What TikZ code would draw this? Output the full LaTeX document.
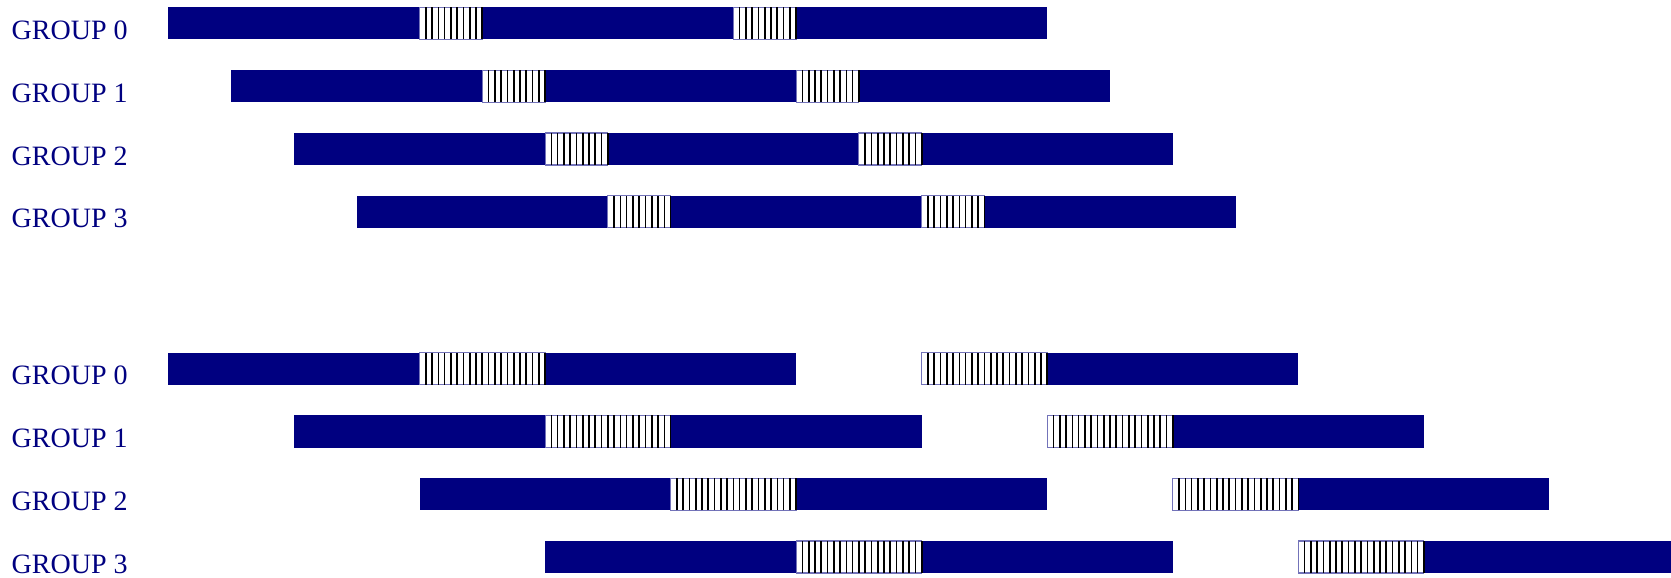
\documentclass[tikz,border=0pt]{standalone}
\usepackage{fontspec}
\setmainfont{Liberation Serif}
\usepackage{xcolor}
\definecolor{barnavy}{RGB}{0,0,128}

% hatched slot: x start, y bottom, length in units
\newcommand{\hatchseg}[3]{%
    \filldraw[hatchbox] (#1,#2) rectangle ++(#3,0.51);
    \pgfmathtruncatemacro{\nlines}{10*#3}
    \foreach \k in {1,...,\nlines}
        \draw[hatchline] ({#1+0.1*\k},#2) -- ++(0,0.51);
}

\begin{document}
\begin{tikzpicture}[x=1cm, y=1cm,
    solidbar/.style={fill=barnavy, draw=none},
    hatchbox/.style={fill=white, draw=barnavy!55, line width=0.5pt},
    hatchline/.style={draw=black, line width=0.75pt},
    grouplabel/.style={anchor=base west, inner sep=0pt, text=barnavy, font=\fontsize{12.7}{15}\selectfont}]
    \useasboundingbox (0,0) rectangle (26.62,9.192);
    \clip (0,0) rectangle (26.62,9.192);

    % upper schedule
    \foreach \g in {0,...,3} {
        \pgfmathsetmacro{\ylow}{8.563-\g}
        \pgfmathsetmacro{\xs}{2.683+\g}
        \node[grouplabel] (top\g) at (0.18,\ylow) {GROUP \g};
        \fill[solidbar] (\xs,\ylow) rectangle ++(14,0.51);
        \hatchseg{\xs+4}{\ylow}{1}
        \hatchseg{\xs+9}{\ylow}{1}
    }

    % lower schedule
    \foreach \g in {0,...,3} {
        \pgfmathsetmacro{\ylow}{3.063-\g}
        \pgfmathsetmacro{\xs}{2.683+2*\g}
        \node[grouplabel] (bot\g) at (0.18,\ylow) {GROUP \g};
        \fill[solidbar] (\xs,\ylow) rectangle ++(10,0.51);
        \fill[solidbar] (\xs+12,\ylow) rectangle ++(6,0.51);
        \hatchseg{\xs+4}{\ylow}{2}
        \hatchseg{\xs+12}{\ylow}{2}
    }
\end{tikzpicture}
\end{document}
